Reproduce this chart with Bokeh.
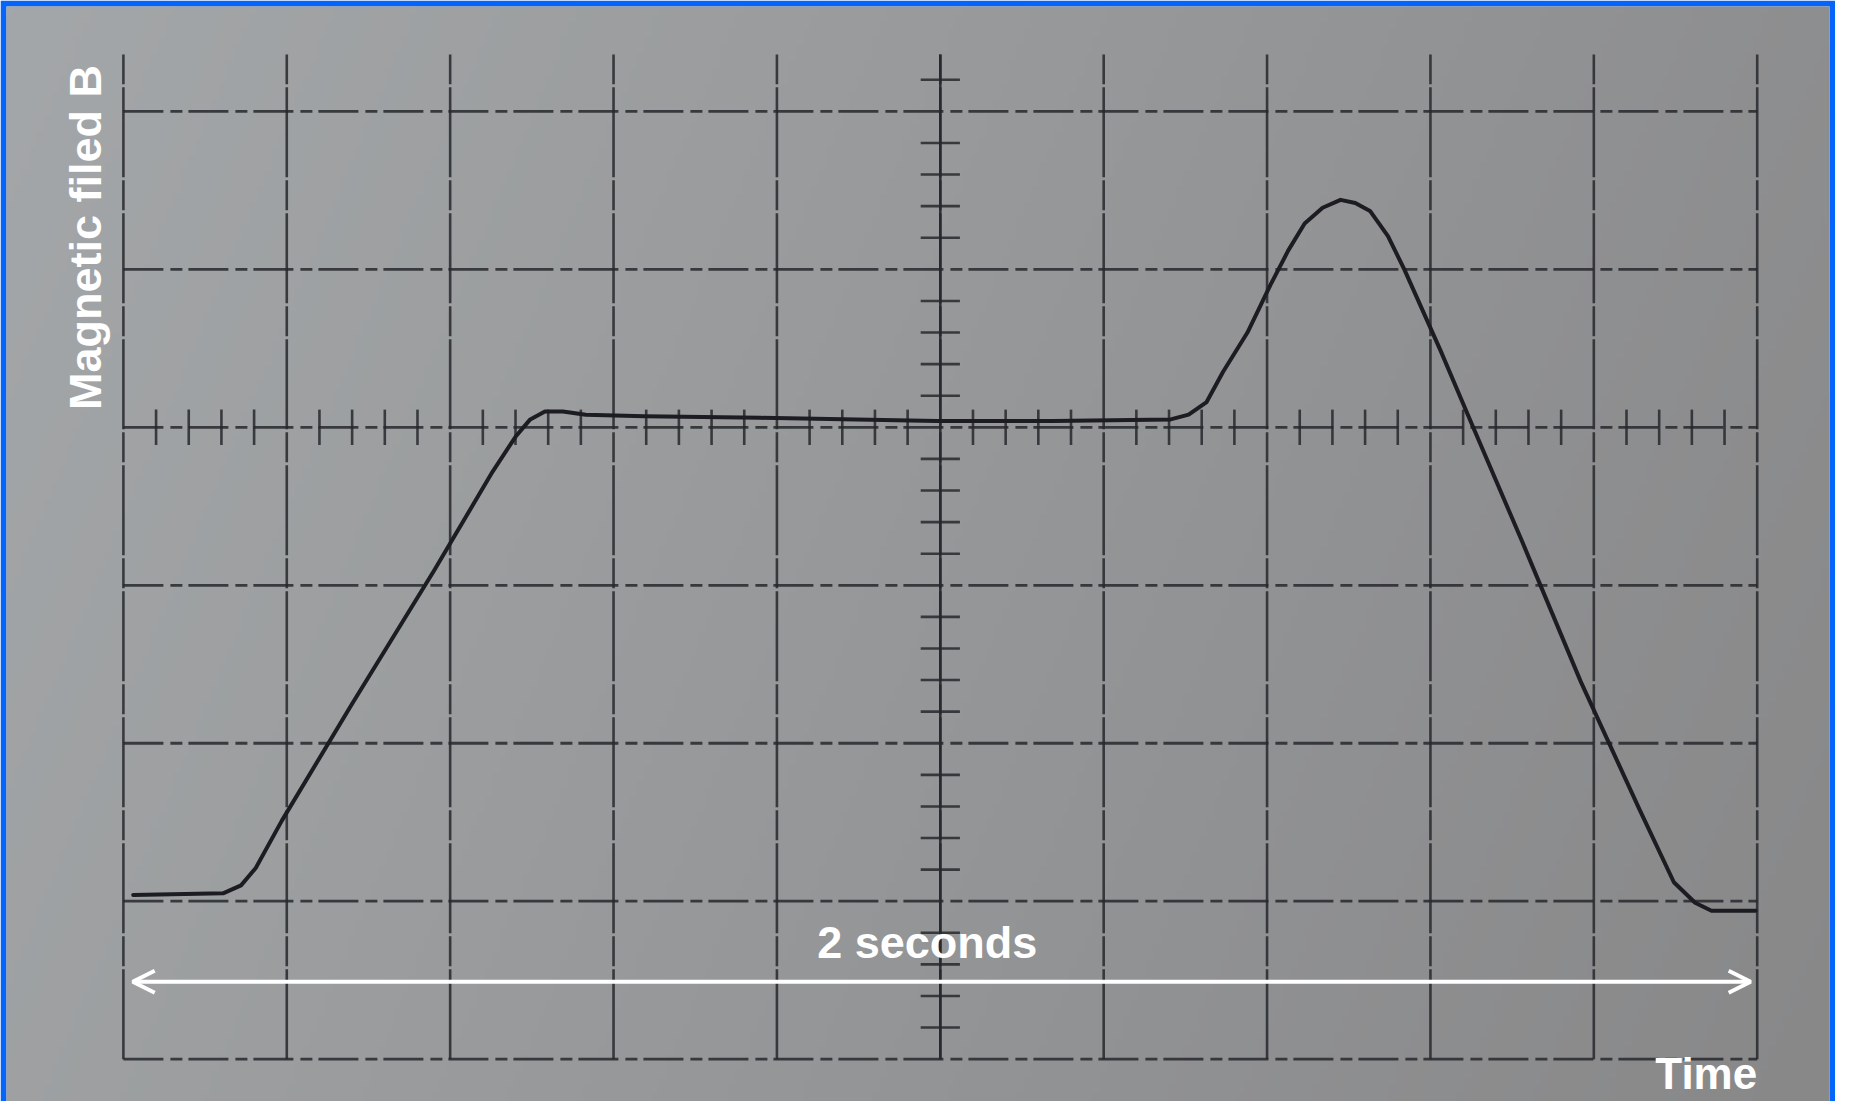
import numpy as np
from math import pi
from bokeh.plotting import figure
from bokeh.models import Range1d, Arrow, OpenHead, Label
from bokeh.embed import file_html
from bokeh.resources import INLINE

# ---- data (oscilloscope screen divisions) ----
trace_x = [0.06, 0.61, 0.72, 0.81, 0.97, 1.40, 1.90, 2.26, 2.40, 2.49, 2.58, 2.69, 2.83,
           3.19, 3.90, 4.98, 5.69, 6.41, 6.52, 6.63, 6.73, 6.88, 7.02, 7.13, 7.23, 7.34,
           7.45, 7.54, 7.63, 7.74, 7.84, 8.06, 8.27, 8.56, 8.92, 9.28, 9.49, 9.62, 9.72, 9.99]
trace_y = [-2.96, -2.95, -2.90, -2.79, -2.49, -1.75, -0.91, -0.28, -0.06, 0.05, 0.10, 0.10, 0.08,
           0.07, 0.06, 0.04, 0.04, 0.05, 0.08, 0.16, 0.35, 0.60, 0.90, 1.12, 1.29, 1.39,
           1.44, 1.42, 1.37, 1.21, 1.00, 0.49, -0.02, -0.72, -1.61, -2.42, -2.88, -3.01, -3.06, -3.06]

vertical_divisions = list(range(0, 11))
horizontal_divisions = [2, 1, 0, -1, -2, -3, -4]
center_x = 5
center_y = 0
minor_per_div = 5

y_label = "Magnetic filed B"
x_label = "Time"
span_label = "2 seconds"
span_start = 0.057
span_end = 9.96
span_level = -3.51

# ---- figure ----
W, H = 1835, 1101
x0, x1 = -0.7155, 10.4425
y0, y1 = -4.268, 2.664
p = figure(width=W, height=H, output_backend="svg", toolbar_location=None,
           x_range=Range1d(x0, x1), y_range=Range1d(y0, y1),
           x_axis_type=None, y_axis_type=None, title=None,
           min_border_left=6, min_border_top=6, min_border_right=6, min_border_bottom=0)
p.grid.visible = False
p.outline_line_color = None
p.border_fill_color = "#0565fb"
p.background_fill_color = "#96989a"

# paper shading (background only)
nx, ny = 240, 140
u = np.linspace(0, 1, nx)[None, :]
v = np.linspace(1, 0, ny)[:, None]
t = 0.8 * u + 0.2 * v
tl = np.array([164, 167, 169])
br = np.array([136, 136, 137])
img = np.empty((ny, nx), dtype=np.uint32)
view = img.view(dtype=np.uint8).reshape((ny, nx, 4))
for k in range(3):
    view[:, :, k] = (tl[k] + (br[k] - tl[k]) * t).astype(np.uint8)
view[:, :, 3] = 255
p.image_rgba(image=[img], x=x0, y=y0, dw=x1 - x0, dh=y1 - y0)

grid_color = "#27282d"
top_ext = 2.36
xmin, xmax = min(vertical_divisions), max(vertical_divisions)
ymin = min(horizontal_divisions)

# vertical graticule lines
p.segment(x0=vertical_divisions, y0=[ymin] * len(vertical_divisions),
          x1=vertical_divisions, y1=[top_ext] * len(vertical_divisions),
          line_color=grid_color, line_width=2.6, line_alpha=0.85,
          line_dash="90 3 30 3")
# horizontal graticule lines
p.segment(x0=[xmin] * len(horizontal_divisions), y0=horizontal_divisions,
          x1=[xmax] * len(horizontal_divisions), y1=horizontal_divisions,
          line_color=grid_color, line_width=2.8, line_alpha=0.85,
          line_dash="40 7 12 6")
# solid centre vertical
p.segment(x0=[center_x], y0=[ymin], x1=[center_x], y1=[top_ext],
          line_color=grid_color, line_width=2.6, line_alpha=0.9)

# minor ticks on the centre lines
step = 1.0 / minor_per_div
tx = [xmin + i * step for i in range(1, (xmax - xmin) * minor_per_div) if i % minor_per_div]
ty = [ymin + i * step for i in range(1, int(round((2.2 - ymin) / step)) + 1) if i % minor_per_div]
p.segment(x0=tx, y0=[center_y - 0.112] * len(tx), x1=tx, y1=[center_y + 0.112] * len(tx),
          line_color=grid_color, line_width=2.6, line_alpha=0.85)
p.segment(x0=[center_x - 0.12] * len(ty), y0=ty, x1=[center_x + 0.12] * len(ty), y1=ty,
          line_color=grid_color, line_width=2.6, line_alpha=0.85)

# trace
p.line(trace_x, trace_y, line_color="#1c1c22", line_width=4, line_join="round", line_cap="round")

# annotations
p.add_layout(Arrow(start=OpenHead(size=22, line_color="white", line_width=4),
                   end=OpenHead(size=22, line_color="white", line_width=4),
                   x_start=span_start, y_start=span_level, x_end=span_end, y_end=span_level,
                   line_color="white", line_width=4))

font = "Liberation Sans"
p.add_layout(Label(x=4.92, y=-3.264, text=span_label, text_font=font, text_font_style="bold",
                   text_font_size="45px", text_color="white", text_align="center",
                   text_baseline="alphabetic"))
p.add_layout(Label(x=10.0, y=-4.09, text=x_label, text_font=font, text_font_style="bold",
                   text_font_size="44px", text_color="white", text_align="right",
                   text_baseline="alphabetic"))
p.add_layout(Label(x=-0.23, y=0.109, text=y_label, text_font=font, text_font_style="bold",
                   text_font_size="45px", text_color="white", text_align="left",
                   text_baseline="alphabetic", angle=pi / 2))

open("out.html", "w").write(file_html(p, INLINE))
